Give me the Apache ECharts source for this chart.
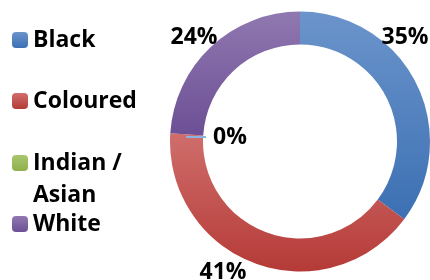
<!DOCTYPE html>
<html>
<head>
<meta charset="utf-8">
<script src="https://cdn.jsdelivr.net/npm/echarts@6/dist/echarts.min.js"></script>
<style>
    html, body { margin: 0; padding: 0; background: #fff; }
    #myChart { width: 430px; height: 280px; }
</style>
</head>
<body>
<div id="myChart"></div>
<script>
    // population groups, share in %
    var categories = ['Black', 'Coloured', 'Indian / Asian', 'White'];
    var shares = [35.2, 40.8, 0, 24.0];

    // gradient stops per slice (top, bottom)
    var colors = [
        ['#6b94cb', '#3c70b3'],
        ['#cf6e6b', '#b53a37'],
        ['#a9c56f', '#8fb04c'],
        ['#9078b0', '#6c4f95']
    ];
    // label anchor per slice [x, y, align]
    var labelSpots = [
        [405, 37, 'center'],
        [223, 272, 'center'],
        [186, 137, 'left'],
        [194, 37, 'center']
    ];
    // legend row centres
    var legendRows = [40, 101, 163, 224];

    var font = 'Open Sans';
    var fsize = 23;

    function grad(c){
        return new echarts.graphic.LinearGradient(0, 0, 0, 1, [
            {offset: 0, color: c[0]},
            {offset: 1, color: c[1]}
        ]);
    }

    var legends = categories.map(function (name, i) {
        var wrap = name.indexOf(' / ') >= 0;
        return {
            data: [name],
            orient: 'vertical',
            left: 12,
            top: wrap ? legendRows[i] - 48 : legendRows[i] - 15,
            padding: 0,
            itemWidth: 16,
            itemHeight: 16,
            selectedMode: false,
            // blank first line keeps the marker level with "Indian /"
            formatter: function (n) { return n.indexOf(' / ') >= 0 ? ' \n' + n.replace(' / ', ' /\n') : n; },
            textStyle: {
                fontFamily: font,
                fontWeight: 'bold',
                fontSize: fsize,
                color: '#000',
                lineHeight: wrap ? 32 : 30
            }
        };
    });

    var myChart = echarts.init(document.getElementById('myChart'));
    myChart.setOption({
        animation: false,
        legend: legends,
        series: [{
            type: 'pie',
            center: [300, 141.5],
            radius: [97, 130],
            startAngle: 90,
            clockwise: true,
            percentPrecision: 0,
            avoidLabelOverlap: false,
            emphasis: {disabled: true},
            label: {
                show: true,
                position: 'outside',
                fontFamily: font,
                fontWeight: 'bold',
                fontSize: fsize,
                color: '#000',
                formatter: function (p) {
                    if (p.dataIndex === 2) {
                        return '{l|}{g|}{v|' + p.percent + '%}';
                    }
                    return p.percent + '%';
                },
                rich: {
                    l: {width: 20, height: 2, backgroundColor: '#8db3e2'},
                    g: {width: 7, height: 2},
                    v: {fontFamily: font, fontWeight: 'bold', fontSize: fsize, color: '#000'}
                }
            },
            labelLine: {show: false},
            labelLayout: function (params) {
                var s = labelSpots[params.dataIndex];
                return {x: s[0], y: s[1], align: s[2], verticalAlign: 'middle', hideOverlap: false};
            },
            data: categories.map(function (name, i) {
                return {
                    name: name,
                    value: shares[i],
                    itemStyle: {color: grad(colors[i])}
                };
            })
        }]
    });
</script>
</body>
</html>
